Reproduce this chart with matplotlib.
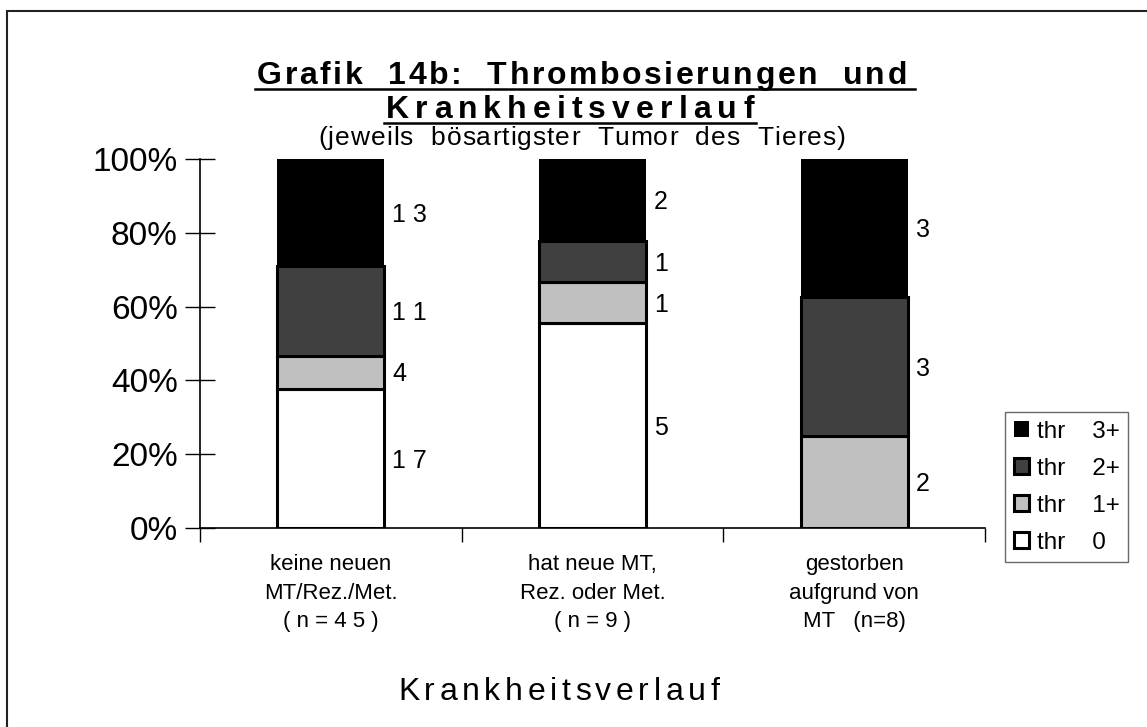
import numpy as np
import matplotlib.pyplot as plt
from matplotlib.font_manager import FontProperties
from matplotlib.patches import Rectangle
from matplotlib.lines import Line2D

plt.rcParams['font.family'] = ['Liberation Sans', 'DejaVu Sans']

# data (Anzahl Tiere je Gruppe)
kategorien = ['keine neuen\nMT/Rez./Met.\n( n = 4 5 )',
              'hat neue MT,\nRez. oder Met.\n( n = 9 )',
              'gestorben\naufgrund von\nMT   (n=8)']
thr0 = [17, 5, 0]
thr1 = [4, 1, 2]
thr2 = [11, 1, 3]
thr3 = [13, 2, 3]
serien = ['thr    0', 'thr    1+', 'thr    2+', 'thr    3+']
farben = ['#ffffff', '#c0c0c0', '#404040', '#000000']
yticks = [0, 20, 40, 60, 80, 100]

counts = np.array([thr0, thr1, thr2, thr3], dtype=float)
total = counts.sum(axis=0)
pct = counts / total * 100

W, H = 1147, 727
fig = plt.figure(figsize=(W/100, H/100), dpi=100)
ax = fig.add_axes([200/W, 1-528/H, 785/W, 369/H])

x = np.arange(len(kategorien))
bw = 0.41
bottom = np.zeros(len(kategorien))
handles = []
for i in range(4):
    lw = 2.2 if i < 3 else 0
    h = ax.bar(x, pct[i], bw, bottom=bottom, color=farben[i], edgecolor='black',
               linewidth=lw, label=serien[i], zorder=2)
    handles.append(h)
    for j in range(len(x)):
        if counts[i, j] > 0:
            txt = ' '.join(str(int(counts[i, j])))
            ax.text(x[j] + bw/2 + 0.03, bottom[j] + pct[i, j]/2 - 0.6, txt,
                    ha='left', va='center', fontsize=18)
    bottom += pct[i]

ax.set_xlim(-0.5, 2.5)
ax.set_ylim(0, 100)
ax.set_yticks(yticks)
ax.set_yticklabels([f'{v}%' for v in yticks], fontsize=24)
ax.set_xticks(x)
ax.set_xticklabels(kategorien, fontsize=16, linespacing=1.45)
ax.set_xticks([-0.5, 0.5, 1.5, 2.5], minor=True)
ax.tick_params(axis='x', which='major', length=0, pad=19)
ax.tick_params(axis='x', which='minor', length=10, width=1, direction='out')
ax.tick_params(axis='y', length=22, width=1, direction='inout', pad=5)
for s in ['top', 'right']:
    ax.spines[s].set_visible(False)
for s in ['left', 'bottom']:
    ax.spines[s].set_linewidth(1.2)

leg = ax.legend(handles[::-1], serien[::-1], loc='upper left',
                bbox_to_anchor=(1005/W, 1-412/H), bbox_transform=fig.transFigure,
                fontsize=17.5, frameon=True, fancybox=False, edgecolor='#444444',
                handlelength=0.62, handleheight=0.62, handletextpad=0.35,
                borderpad=0.35, labelspacing=0.62, borderaxespad=0)
leg.get_frame().set_linewidth(1.0)

fig.canvas.draw()
r = fig.canvas.get_renderer()


def spaced(x0, y, s, extra, **kw):
    # Text mit Sperrung, Zeichen fuer Zeichen (Pixelkoordinaten)
    prop = FontProperties(family=['Liberation Sans', 'DejaVu Sans'], **kw)
    base = r.get_text_width_height_descent('||', prop, ismath=False)[0]
    xp = x0
    for c in s:
        fig.text(xp/W, 1-y/H, c, ha='left', va='baseline', fontproperties=prop)
        xp += r.get_text_width_height_descent('|' + c + '|', prop, ismath=False)[0] - base + extra
    return xp


def underline(x0, x1, y):
    fig.add_artist(Line2D([x0/W, x1/W], [1-y/H, 1-y/H], transform=fig.transFigure,
                          color='black', lw=1.8))


# Titel
spaced(257, 84, 'Grafik  14b:  Thrombosierungen  und', 2.6, size=23, weight='bold')
underline(255, 915, 89)
e2 = spaced(386, 118, 'Krankheitsverlauf', 6.1, size=23, weight='bold')
underline(384, e2 - 4, 123)
spaced(318, 145, '(jeweils  bösartigster  Tumor  des  Tieres)', 1.0, size=19)

# Achsentitel
spaced(398, 700, 'Krankheitsverlauf', 4.6, size=23)

# Rahmen
fig.add_artist(Rectangle((7/W, -0.05), 1.2, 1-11/H + 0.05,
                         transform=fig.transFigure, fill=False,
                         edgecolor='#222222', lw=1.5))

fig.savefig('out.png', dpi=100)
